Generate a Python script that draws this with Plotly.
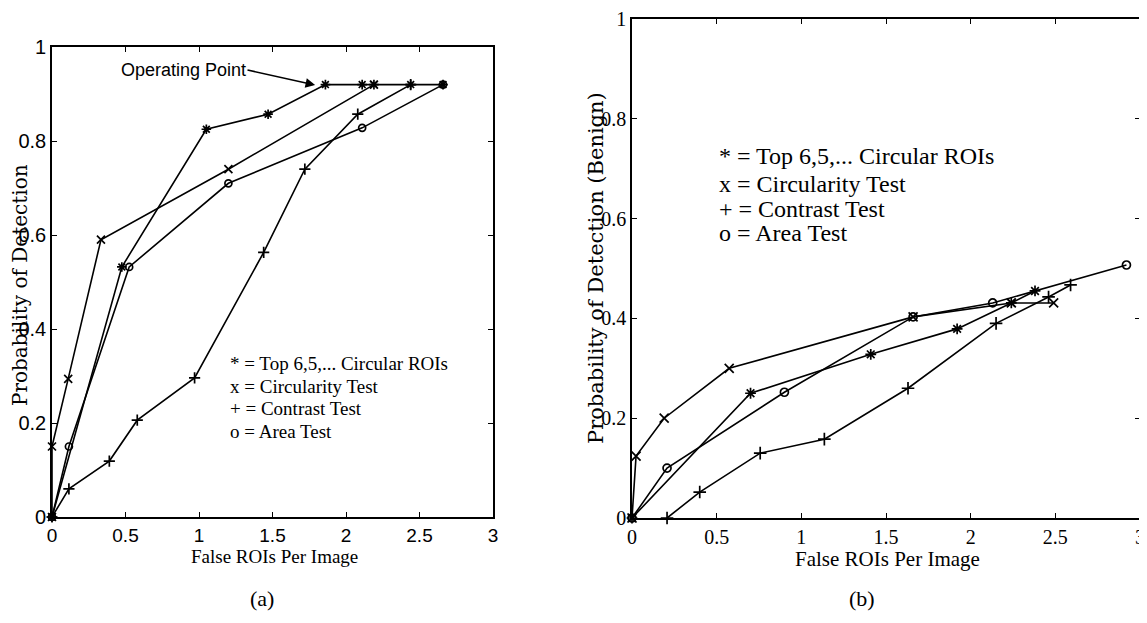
import plotly.graph_objects as go

W, H = 1147, 623
OFF = 8  # page body margin offset of the rendered figure

# ---------- Panel (a) data ----------
a_top_x = [0, 0.475, 1.05, 1.47, 1.86, 2.11, 2.19, 2.44, 2.66]
a_top_y = [0, 0.532, 0.825, 0.857, 0.92, 0.92, 0.92, 0.92, 0.92]
a_circ_x = [0, 0, 0.11, 0.333, 1.2, 2.19]
a_circ_y = [0, 0.15, 0.294, 0.59, 0.74, 0.92]
a_con_x = [0, 0.115, 0.39, 0.58, 0.97, 1.44, 1.72, 2.08, 2.44]
a_con_y = [0, 0.06, 0.119, 0.206, 0.296, 0.563, 0.74, 0.857, 0.92]
a_area_x = [0, 0.115, 0.525, 1.2, 2.11, 2.66]
a_area_y = [0, 0.15, 0.532, 0.71, 0.828, 0.92]

# ---------- Panel (b) data ----------
b_top_x = [0, 0.70, 1.41, 1.92, 2.24, 2.38]
b_top_y = [0, 0.25, 0.328, 0.379, 0.431, 0.455]
b_circ_x = [0, 0.024, 0.19, 0.574, 1.66, 2.24, 2.49]
b_circ_y = [0, 0.124, 0.20, 0.30, 0.403, 0.431, 0.431]
b_con_x = [0.207, 0.40, 0.757, 1.136, 1.63, 2.15, 2.46, 2.59]
b_con_y = [0, 0.052, 0.13, 0.158, 0.26, 0.39, 0.443, 0.467]
b_area_x = [0, 0.207, 0.90, 1.66, 2.13, 2.92]
b_area_y = [0, 0.10, 0.252, 0.403, 0.431, 0.507]

x_ticks = [0, 0.5, 1, 1.5, 2, 2.5, 3]
x_tick_text = ["0", "0.5", "1", "1.5", "2", "2.5", "3"]
y_ticks = [0, 0.2, 0.4, 0.6, 0.8, 1]
y_tick_text = ["0", "0.2", "0.4", "0.6", "0.8", "1"]

legend_lines = ["* = Top 6,5,... Circular ROIs", "x = Circularity Test",
                "+ = Contrast Test", "o = Area Test"]

symbols = {"top": "asterisk-open", "circ": "x-thin-open",
           "con": "cross-thin-open", "area": "circle-open"}

SERIF = "Liberation Serif, Times New Roman, serif"
WIDE_SERIF = "DejaVu Serif, serif"
NARROW = "Liberation Sans Narrow, Liberation Sans, Arial, sans-serif"

fig = go.Figure()


def add_series(xs, ys, sym, xa, ya, msize=9):
    fig.add_trace(go.Scatter(
        x=xs, y=ys, mode="lines+markers", xaxis=xa, yaxis=ya,
        line=dict(color="black", width=1.6),
        marker=dict(symbol=sym, size=msize, color="black",
                    line=dict(width=1.7, color="black")),
        showlegend=False, hoverinfo="skip", cliponaxis=False))


for xs, ys, k in [(a_top_x, a_top_y, "top"), (a_circ_x, a_circ_y, "circ"),
                  (a_con_x, a_con_y, "con"), (a_area_x, a_area_y, "area")]:
    add_series(xs, ys, symbols[k], "x", "y", 8 if k != "area" else 7)

for xs, ys, k in [(b_top_x, b_top_y, "top"), (b_circ_x, b_circ_y, "circ"),
                  (b_con_x, b_con_y, "con"), (b_area_x, b_area_y, "area")]:
    add_series(xs, ys, symbols[k], "x2", "y2", 9 if k != "area" else 8)


def px_x(p):
    return (p - OFF) / W


def px_y(p):
    return 1 - (p - OFF) / H


axis_common = dict(
    range=[0, 3], showgrid=False, zeroline=False, showline=True,
    linecolor="black", linewidth=1.6, mirror="allticks",
    ticks="inside", ticklen=5, tickwidth=1.3, tickcolor="black",
    tickmode="array", tickvals=x_ticks, ticktext=x_tick_text,
    automargin=False,
)
yaxis_common = dict(
    range=[0, 1], showgrid=False, zeroline=False, showline=True,
    linecolor="black", linewidth=1.6, mirror="allticks",
    ticks="inside", ticklen=5, tickwidth=1.3, tickcolor="black",
    tickmode="array", tickvals=y_ticks, ticktext=y_tick_text,
    automargin=False,
)

fig.update_layout(
    width=W, height=H, margin=dict(l=0, r=0, t=0, b=0, autoexpand=False),
    paper_bgcolor="white", plot_bgcolor="white",
    xaxis=dict(**axis_common, domain=[px_x(52), px_x(493)], anchor="y",
               tickfont=dict(family=NARROW, size=19, color="black"), ticklabelstandoff=0),
    yaxis=dict(**yaxis_common, domain=[px_y(517), px_y(47)], anchor="x",
               tickfont=dict(family=NARROW, size=20, color="black"), ticklabelstandoff=0),
    xaxis2=dict(**axis_common, domain=[px_x(632), px_x(1140)], anchor="y2",
                tickfont=dict(family=SERIF, size=20, color="black"), ticklabelstandoff=0),
    yaxis2=dict(**yaxis_common, domain=[px_y(518), px_y(19)], anchor="x2",
                tickfont=dict(family=SERIF, size=20, color="black"), ticklabelstandoff=0),
)

ann = []


def paper_text(text, x, y, size, family, angle=0):
    ann.append(dict(text=text, x=px_x(x), y=px_y(y), xref="paper", yref="paper",
                    xanchor="center", yanchor="middle", textangle=angle,
                    showarrow=False, font=dict(family=family, size=size, color="black")))


# axis titles
paper_text("Probability of Detection", 20, 285, 20, WIDE_SERIF, -90)
paper_text("False ROIs Per Image", 274, 556, 19, SERIF)
paper_text("Probability of Detection (Benign)", 596, 268, 21, WIDE_SERIF, -90)
paper_text("False ROIs Per Image", 887, 559, 21, SERIF)
# captions
paper_text("(a)", 262, 598, 22, SERIF)
paper_text("(b)", 862, 598, 22, SERIF)

# in-plot legend text (a)
a_leg_y = [0.327, 0.277, 0.23, 0.181]
for t, yy in zip(legend_lines, a_leg_y):
    ann.append(dict(text=t, x=1.2, y=yy, xref="x", yref="y", xanchor="left",
                    showarrow=False, font=dict(family=SERIF, size=19, color="black")))
# in-plot legend text (b)
b_leg_y = [0.725, 0.669, 0.619, 0.571]
for t, yy in zip(legend_lines, b_leg_y):
    ann.append(dict(text=t, x=0.50, y=yy, xref="x2", yref="y2", xanchor="left",
                    showarrow=False, font=dict(family=SERIF, size=24, color="black")))

# Operating point arrow
ann.append(dict(text="Operating Point", x=1.79, y=0.919, ax=1.33, ay=0.951,
                xref="x", yref="y", axref="x", ayref="y", xanchor="right",
                showarrow=True, arrowhead=2, arrowsize=1.2, arrowwidth=1.6,
                arrowcolor="black", standoff=0,
                font=dict(family=NARROW, size=18, color="black")))

fig.update_layout(annotations=ann)
fig.write_html("out.html")
